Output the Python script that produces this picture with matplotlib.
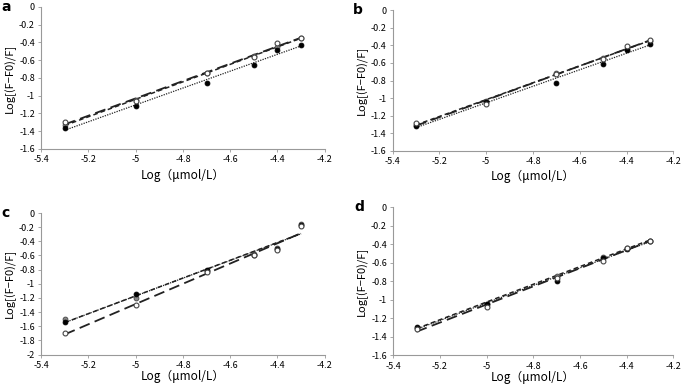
import matplotlib
matplotlib.use('Agg')
import matplotlib.pyplot as plt
import numpy as np

plt.rcParams['font.family'] = ['Noto Sans CJK JP', 'DejaVu Sans']

# log concentration
conc = [-5.3, -5.0, -4.7, -4.5, -4.4, -4.3]

# three series per panel: open circles, filled circles, grey circles
a_open = [-1.30, -1.06, -0.74, -0.56, -0.41, -0.35]
a_fill = [-1.36, -1.12, -0.86, -0.65, -0.49, -0.43]
a_grey = [-1.33, -1.05, -0.74, -0.55, -0.45, -0.35]

b_open = [-1.28, -1.07, -0.73, -0.56, -0.41, -0.34]
b_fill = [-1.32, -1.04, -0.83, -0.61, -0.45, -0.38]
b_grey = [-1.30, -1.03, -0.72, -0.54, -0.44, -0.35]

c_open = [-1.70, -1.30, -0.83, -0.60, -0.52, -0.19]
c_fill = [-1.54, -1.15, -0.80, -0.60, -0.51, -0.17]
c_grey = [-1.50, -1.20, -0.82, -0.58, -0.50, -0.16]

d_open = [-1.32, -1.08, -0.76, -0.58, -0.44, -0.36]
d_fill = [-1.29, -1.05, -0.80, -0.55, -0.45, -0.36]
d_grey = [-1.30, -1.04, -0.74, -0.54, -0.44, -0.36]

panels = [
    ('a', [0.060, 0.616, 0.414, 0.366], a_open, a_fill, a_grey, -1.6, 3),
    ('b', [0.573, 0.611, 0.410, 0.363], b_open, b_fill, b_grey, -1.6, 3),
    ('c', [0.060, 0.086, 0.414, 0.365], c_open, c_fill, c_grey, -2.0, 0),
    ('d', [0.574, 0.084, 0.409, 0.382], d_open, d_fill, d_grey, -1.6, 0),
]

fig = plt.figure(figsize=(6.85, 3.88), dpi=100)
xs = np.array([-5.3, -4.3])

for letter, pos, yo, yf, yg, ymin, xpad in panels:
    ax = fig.add_axes(pos)
    # fitted lines
    for ys, ls, lw in [(yo, (0, (6, 3)), 1.3), (yg, (0, (3, 2)), 1.1), (yf, (0, (1, 1)), 0.9)]:
        k, b = np.polyfit(conc, ys, 1)
        ax.plot(xs, k * xs + b, color='#222222', linestyle=ls, lw=lw)
    ax.plot(conc, yg, 'o', ms=3.5, mfc='#888888', mec='#444444', mew=0.6)
    ax.plot(conc, yf, 'o', ms=3.5, mfc='black', mec='black', mew=0.6)
    ax.plot(conc, yo, 'o', ms=3.5, mfc='white', mec='#444444', mew=0.8)

    ax.set_xlim(-5.4, -4.2)
    ax.set_ylim(ymin, 0)
    ax.set_xticks(np.arange(-5.4, -4.19, 0.2))
    ax.set_xticklabels(['-5.4', '-5.2', '-5', '-4.8', '-4.6', '-4.4', '-4.2'])
    yt = np.arange(ymin, 0.01, 0.2)
    ax.set_yticks(yt)
    ax.set_yticklabels(['%g' % round(v, 1) if abs(v) > 1e-9 else '0' for v in yt])
    for s in ['top', 'right']:
        ax.spines[s].set_visible(False)
    for s in ['left', 'bottom']:
        ax.spines[s].set_color('#999999')
        ax.spines[s].set_linewidth(0.8)
    ax.tick_params(labelsize=6.5, length=2.5, width=0.6, color='#999999', pad=2)
    ax.set_xlabel('Log（μmol/L）', fontsize=8.5, labelpad=xpad)
    ax.set_ylabel('Log[(F−F0)/F]', fontsize=8, labelpad=2)
    ax.text(-0.14, 1.0, letter, transform=ax.transAxes, fontsize=10,
            fontweight='bold', family='DejaVu Sans', va='center')

fig.savefig('out.png', dpi=100)
